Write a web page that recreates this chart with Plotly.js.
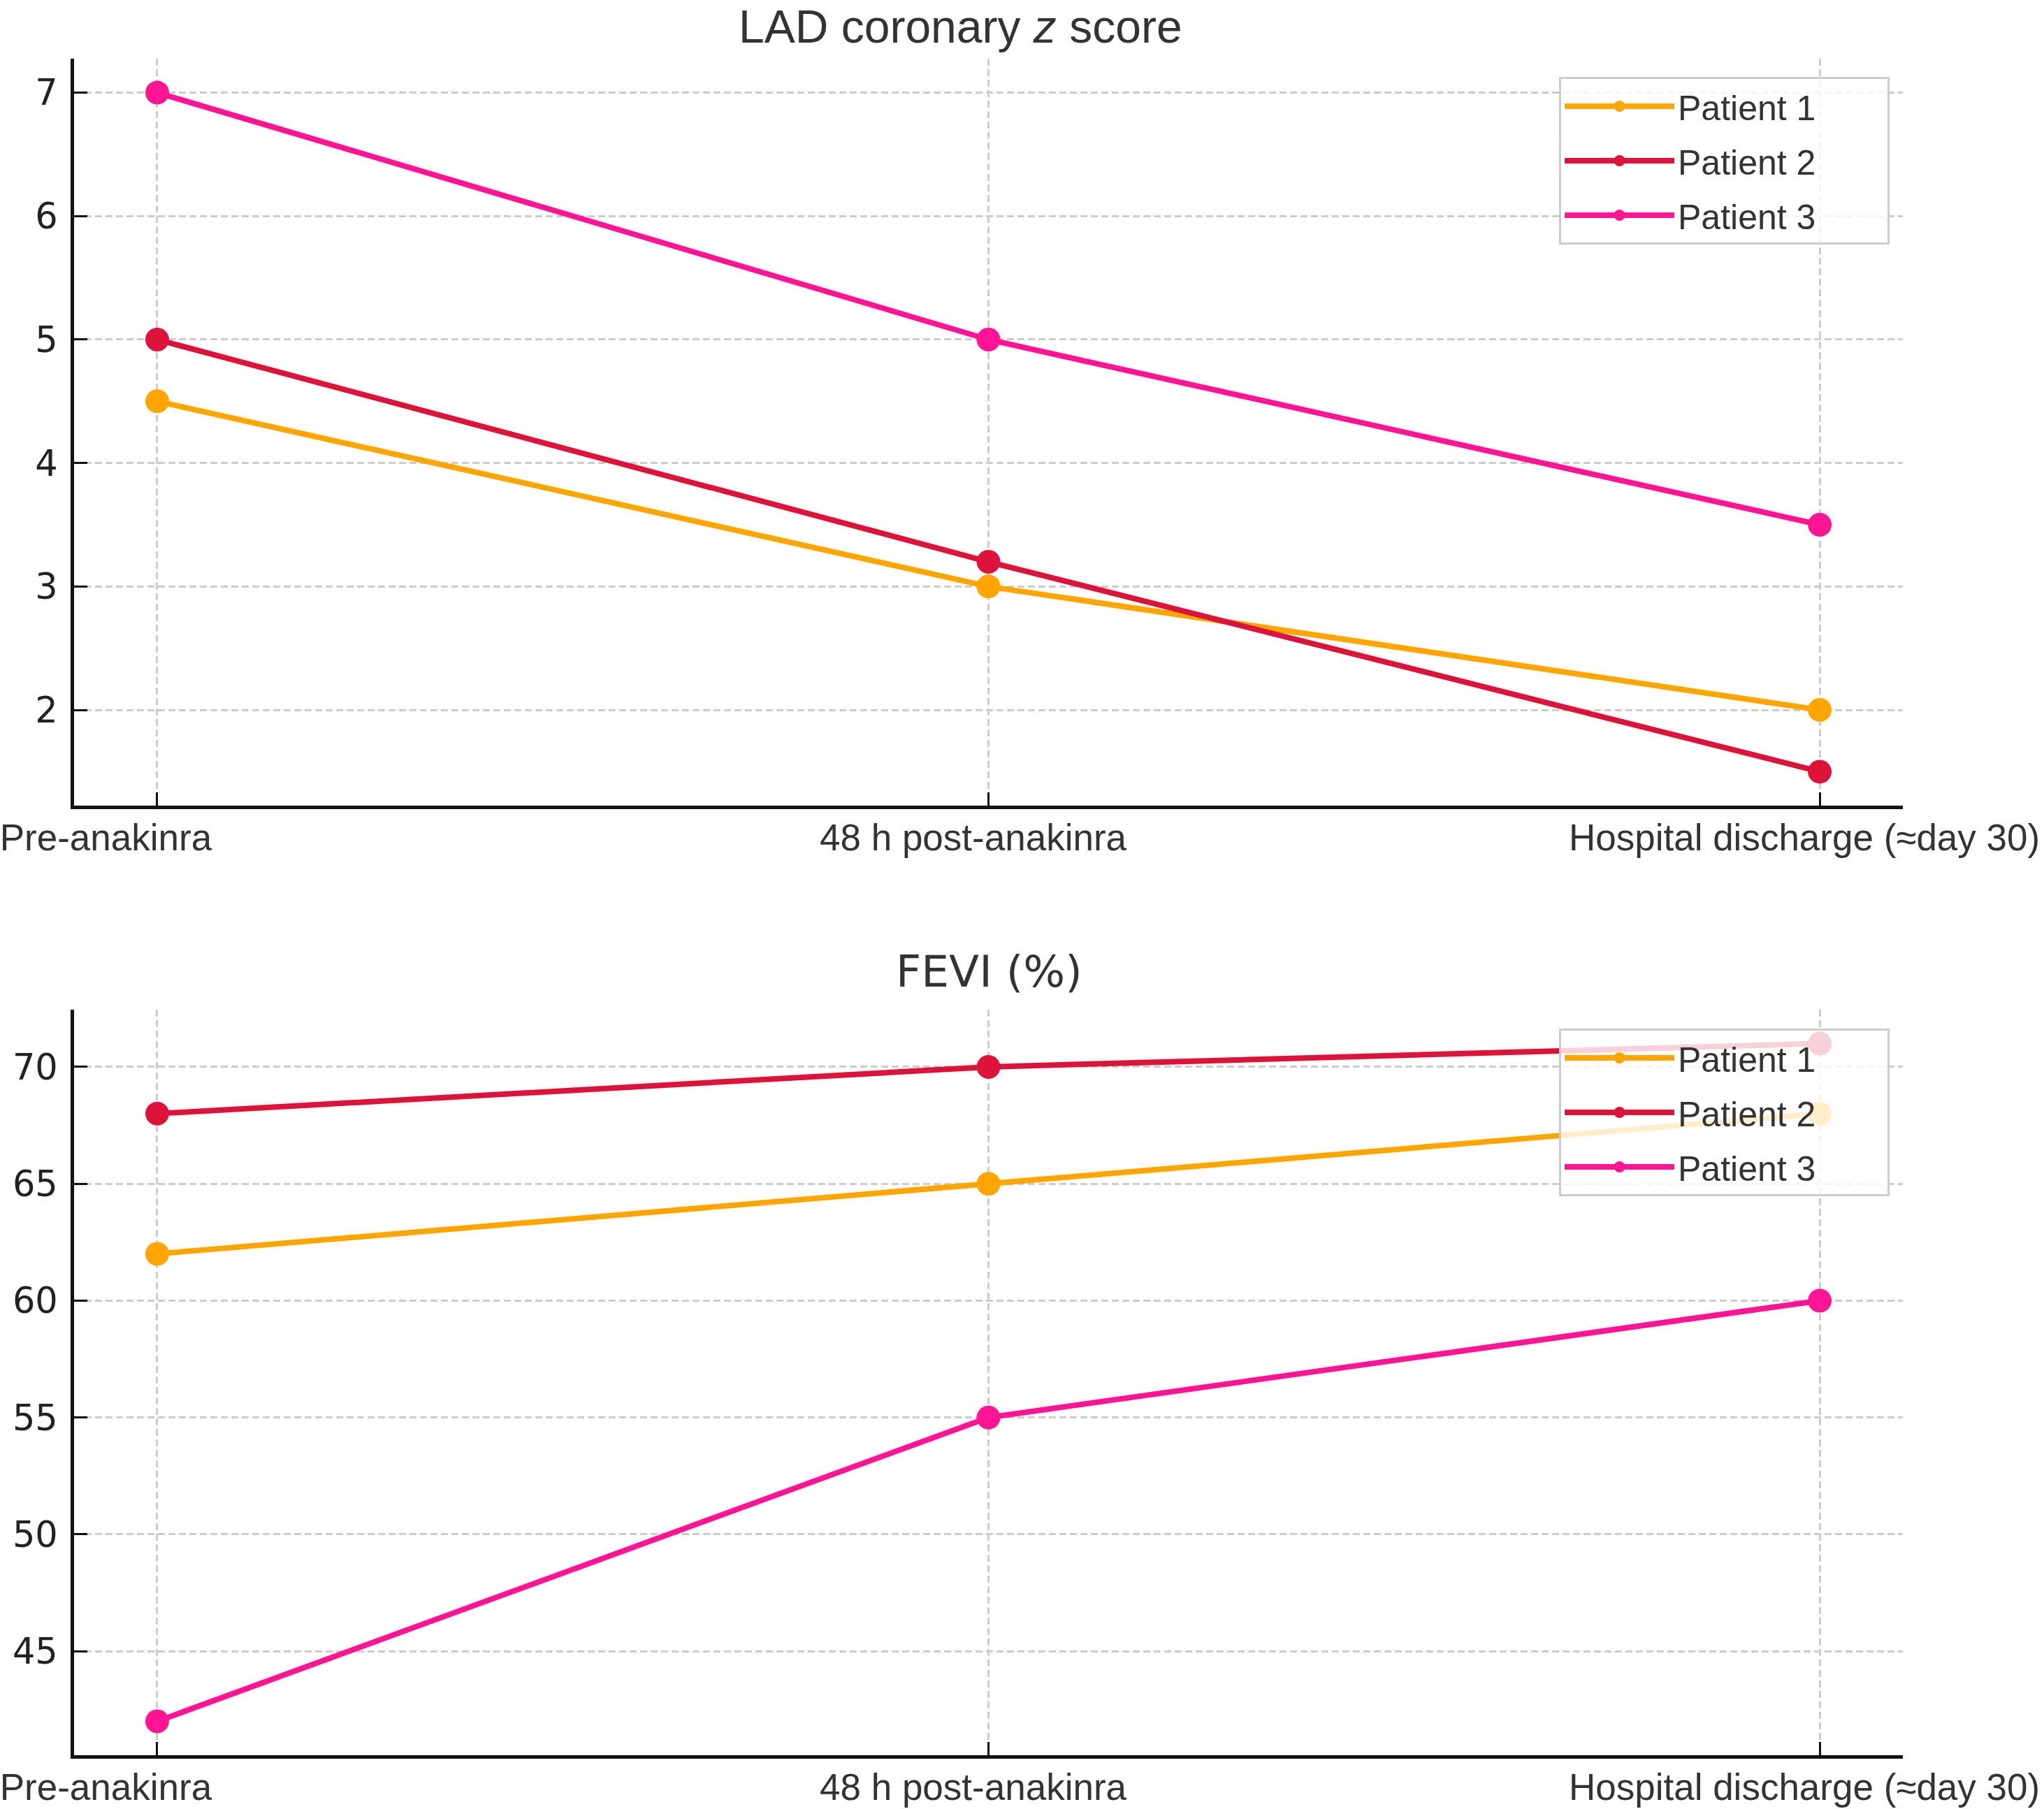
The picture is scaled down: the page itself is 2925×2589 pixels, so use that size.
<!DOCTYPE html>
<html>
<head>
<meta charset="utf-8">
<script src="https://cdn.plot.ly/plotly-3.0.1.min.js"></script>
<style>
  html, body { margin: 0; padding: 0; background: #fff; }
  #plotDiv { width: 2925px; height: 2589px; }
</style>
</head>
<body>
<div id="plotDiv"></div>
<script>
/* =========================
   Data
========================= */

const timepoints = ['Pre-anakinra', '48 h post-anakinra', 'Hospital discharge (≈day 30)'];
const patients = ['Patient 1', 'Patient 2', 'Patient 3'];
const patientColors = ['#FFA500', '#DC143C', '#FF1493'];

// LAD coronary z score per patient
const ladZ = [
    [4.5, 3.0, 2.0],
    [5.0, 3.2, 1.5],
    [7.0, 5.0, 3.5],
];

// FEVI (%) per patient
const fevi = [
    [62, 65, 68],
    [68, 70, 71],
    [42, 55, 60],
];

const zTicks = [2, 3, 4, 5, 6, 7];
const feviTicks = [45, 50, 55, 60, 65, 70];

/* =========================
   Styling
========================= */

const SANS = '"Liberation Sans", Arial, Helvetica, sans-serif';
const DEJAVU = '"DejaVu Sans", sans-serif';
const W = 2925;
const H = 2589;

// first label sits further left than its tick in the original; pad it on the right
// legend names get a little trailing room too, so the box is as wide as the original
const NBSP = '\u00a0';
const tickLabels = timepoints.map((t, i) => (i === 0 ? t + NBSP.repeat(7) : t));
const legendNames = patients.map(p => p + NBSP.repeat(7));

function lineTraces(values, xaxis, yaxis, legend) {
    return values.map((ys, i) => ({
        type: 'scatter',
        mode: 'lines+markers',
        name: legendNames[i],
        legendgroup: legend + i,
        x: timepoints,
        y: ys,
        xaxis,
        yaxis,
        legend,
        line: { color: patientColors[i], width: 8 },
        marker: { color: patientColors[i], size: 34 },
        hoverinfo: 'skip',
    }));
}

function xAxisStyle(anchor) {
    return {
        type: 'category',
        anchor,
        domain: [106 / W, 2723 / W],
        range: [-0.1, 2.1],
        tickvals: timepoints,
        ticktext: tickLabels,
        showline: true,
        linecolor: '#111',
        linewidth: 5,
        ticks: 'inside',
        ticklen: 19,
        tickwidth: 3,
        tickcolor: '#111',
        ticklabelstandoff: -5,
        ticklabelshift: -22,
        showgrid: true,
        gridcolor: '#cccccc',
        gridwidth: 3,
        griddash: '10px,5px',
        zeroline: false,
        automargin: false,
        tickfont: { family: SANS, size: 53, color: '#333' },
    };
}

function yAxisStyle(anchor, domain, range, tickvals) {
    return {
        anchor,
        domain,
        range,
        tickvals,
        showline: true,
        linecolor: '#111',
        linewidth: 5,
        ticks: 'inside',
        ticklen: 19,
        tickwidth: 3,
        tickcolor: '#111',
        ticklabelstandoff: 8,
        showgrid: true,
        gridcolor: '#cccccc',
        gridwidth: 3,
        griddash: '10px,5px',
        zeroline: false,
        automargin: false,
        tickfont: { family: DEJAVU, size: 51, color: '#222' },
    };
}

function legendStyle(top) {
    return {
        x: 2231 / W,
        y: top,
        xanchor: 'left',
        yanchor: 'top',
        bgcolor: 'rgba(255,255,255,0.8)',
        bordercolor: '#cccccc',
        borderwidth: 3,
        font: { family: SANS, size: 50, color: '#333' },
        itemwidth: 157,
        traceorder: 'grouped',
        tracegroupgap: 10,
    };
}

const data = [
    ...lineTraces(ladZ, 'x', 'y', 'legend'),
    ...lineTraces(fevi, 'x2', 'y2', 'legend2'),
];

const layout = {
    width: W,
    height: H,
    margin: { l: 0, r: 0, t: 0, b: 0 },
    paper_bgcolor: '#fff',
    plot_bgcolor: '#fff',
    showlegend: true,
    hovermode: false,
    xaxis: xAxisStyle('y'),
    xaxis2: xAxisStyle('y2'),
    yaxis: yAxisStyle('x', [1 - 1153 / H, 1 - 84 / H], [1.225, 7.275], zTicks),
    yaxis2: yAxisStyle('x2', [1 - 2512 / H, 1 - 1445 / H], [40.55, 72.45], feviTicks),
    legend: legendStyle(1 - 110 / H),
    legend2: legendStyle(1 - 1472 / H),
    annotations: [
        {
            text: 'LAD coronary <i>z</i> score',
            xref: 'paper', yref: 'paper',
            x: 1374 / W, y: 1 - 38 / H,
            xanchor: 'center', yanchor: 'middle',
            showarrow: false,
            font: { family: SANS, size: 66, color: '#333' },
        },
        {
            text: 'FEVI (%)',
            xref: 'paper', yref: 'paper',
            x: 1415 / W, y: 1 - 1390 / H,
            xanchor: 'center', yanchor: 'middle',
            showarrow: false,
            font: { family: DEJAVU, size: 63, color: '#333' },
        },
    ],
};

Plotly.newPlot('plotDiv', data, layout, { displayModeBar: false, staticPlot: true });
</script>
</body>
</html>
